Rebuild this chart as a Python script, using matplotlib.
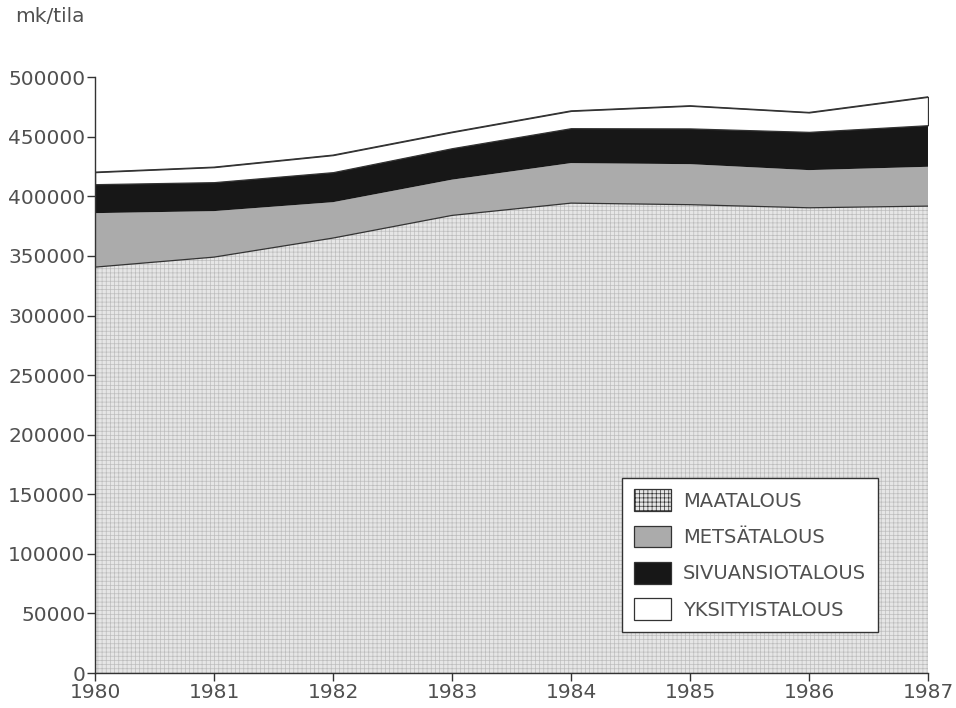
import numpy as np
import matplotlib
matplotlib.use('Agg')
import matplotlib.pyplot as plt

# Values (mk/tila)
years = [1980, 1981, 1982, 1983, 1984, 1985, 1986, 1987]
maatalous = [340600, 349000, 365000, 384000, 394300, 393000, 390400, 391800]
metsatalous = [45300, 38600, 30100, 30000, 33600, 34000, 31600, 33000]
sivuansiotalous = [24300, 24300, 25200, 26400, 29300, 30000, 32100, 34900]
yksityistalous = [10100, 12600, 14300, 13500, 14500, 19000, 16300, 23800]

labels = ['MAATALOUS', 'METSÄTALOUS', 'SIVUANSIOTALOUS', 'YKSITYISTALOUS']
y_ticks = list(range(0, 500001, 50000))

plt.rcParams['font.family'] = ['DejaVu Sans']
plt.rcParams['hatch.color'] = '#bdbdbd'
plt.rcParams['hatch.linewidth'] = 0.5
text_color = '#505050'

fig = plt.figure(figsize=(9.56, 7.08), dpi=100)
ax = fig.add_axes([0.0994, 0.0494, 0.8713, 0.8416])

x = np.array(years)
layers = [np.array(maatalous), np.array(metsatalous),
          np.array(sivuansiotalous), np.array(yksityistalous)]
tops = np.cumsum(layers, axis=0)
bottoms = np.vstack([np.zeros(len(x)), tops[:-1]])

# Fill each stacked layer
ax.fill_between(x, bottoms[0], tops[0], facecolor='#e6e6e6', edgecolor='none',
                hatch='++++', label=labels[0])
ax.fill_between(x, bottoms[1], tops[1], facecolor='#ababab', edgecolor='none',
                label=labels[1])
ax.fill_between(x, bottoms[2], tops[2], facecolor='#171717', edgecolor='none',
                label=labels[2])
ax.fill_between(x, bottoms[3], tops[3], facecolor='white', edgecolor='#333333',
                linewidth=0.9, label=labels[3])

# Boundary lines
ax.plot(x, tops[0], color='#333333', linewidth=0.9)
ax.plot(x, tops[3], color='#333333', linewidth=0.9)

ax.set_xlim(1980, 1987)
ax.set_ylim(0, 500000)
ax.set_xticks(years)
ax.set_xticklabels([str(y) for y in years])
ax.set_yticks(y_ticks)
ax.set_yticklabels([str(v) for v in y_ticks])

for side in ['top', 'right']:
    ax.spines[side].set_visible(False)
for side in ['left', 'bottom']:
    ax.spines[side].set_color('#333333')
    ax.spines[side].set_linewidth(1.0)
ax.tick_params(axis='both', colors='#333333', labelcolor=text_color,
               labelsize=14.5, length=6, width=1.0, pad=1)

fig.text(0.016, 0.976, 'mk/tila', fontsize=14.5, color=text_color,
         ha='left', va='center')

leg = ax.legend(loc='lower right', bbox_to_anchor=(0.94, 0.069),
                fontsize=14, frameon=True, fancybox=False,
                edgecolor='#333333', framealpha=1, handlelength=1.9,
                handleheight=1.35, labelspacing=0.75, borderpad=0.6,
                handletextpad=0.65, borderaxespad=0)
for t in leg.get_texts():
    t.set_color(text_color)
for h in leg.legend_handles:
    h.set_edgecolor('#333333')
    h.set_linewidth(0.9)

fig.savefig('out.png', dpi=100)
